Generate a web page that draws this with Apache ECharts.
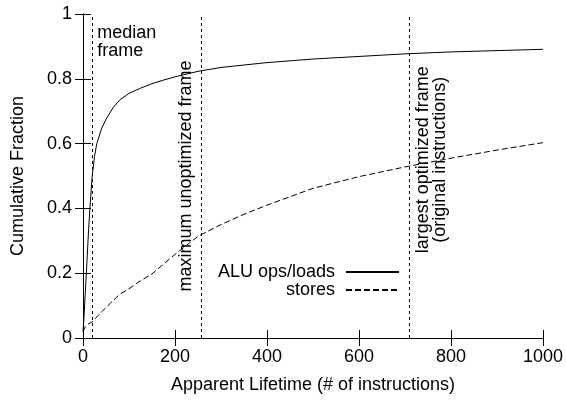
<!DOCTYPE html>
<html>
<head>
<meta charset="utf-8">
<script src="https://cdn.jsdelivr.net/npm/echarts@6/dist/echarts.min.js"></script>
<style>html,body{margin:0;padding:0;background:#fff}#c{width:566px;height:400px}</style>
</head>
<body>
<div id="c"></div>
<script>
// ---- data ----
const aluX = [0, 2, 5, 8, 12, 15, 20, 25, 30, 40, 50, 65, 80, 100, 125, 150, 175, 200, 250, 300, 400, 500, 600, 700, 800, 900, 1000];
const aluY = [0.02, 0.06, 0.14, 0.22, 0.33, 0.40, 0.50, 0.56, 0.60, 0.645, 0.675, 0.71, 0.735, 0.755, 0.771, 0.785, 0.796, 0.806, 0.823, 0.835, 0.85, 0.861, 0.869, 0.877, 0.883, 0.887, 0.891];
const storesX = [0, 5, 10, 20, 40, 60, 80, 100, 120, 150, 200, 250, 300, 350, 400, 500, 600, 700, 800, 900, 1000];
const storesY = [0.02, 0.035, 0.042, 0.05, 0.08, 0.108, 0.135, 0.152, 0.172, 0.198, 0.258, 0.314, 0.35, 0.382, 0.41, 0.462, 0.498, 0.528, 0.555, 0.58, 0.603];
const markerX = [20, 256, 710];
const markerLabels = ['median\nframe', 'maximum unoptimized frame', 'largest optimized frame\n(original instructions)'];
const seriesNames = ['ALU ops/loads', 'stores'];
const xTitle = 'Apparent Lifetime (# of instructions)';
const yTitle = 'Cumulative Fraction';

const FONT = 'Liberation Sans';
const FS = 18;
const zip = (xs, ys) => xs.map((x, i) => [x, ys[i]]);

const chart = echarts.init(document.getElementById('c'), null, {renderer: 'canvas'});
const axisCommon = {
  axisLine: {show: true, lineStyle: {color: '#000', width: 1}},
  axisTick: {show: true, inside: true, length: 8, lineStyle: {color: '#000', width: 1}},
  splitLine: {show: false}
};
const legendCommon = {
  right: 166, orient: 'vertical', align: 'right',
  itemWidth: 53, itemHeight: 12, padding: 0,
  itemStyle: {opacity: 0},
  textStyle: {fontFamily: FONT, fontSize: FS, color: '#000', padding: [0, 6, 0, 0]}
};
const option = {
  animation: false,
  backgroundColor: '#fff',
  textStyle: {fontFamily: FONT},
  grid: {left: 83, right: 23, top: 14, bottom: 62, containLabel: false},
  xAxis: [
    Object.assign({type: 'value', min: 0, max: 1000, interval: 200, position: 'bottom',
      name: xTitle, nameLocation: 'middle', nameGap: 38,
      nameTextStyle: {fontFamily: FONT, fontSize: FS, color: '#000'},
      axisLabel: {fontFamily: FONT, fontSize: FS, color: '#000', margin: 10, formatter: v => String(v)}}, axisCommon),
    Object.assign({type: 'value', min: 0, max: 1000, interval: 200, position: 'top',
      axisLabel: {show: false}}, axisCommon)
  ],
  yAxis: [
    Object.assign({type: 'value', min: 0, max: 1, interval: 0.2, position: 'left',
      name: yTitle, nameLocation: 'middle', nameGap: 56,
      nameTextStyle: {fontFamily: FONT, fontSize: FS, color: '#000'},
      axisLabel: {fontFamily: FONT, fontSize: FS, color: '#000', margin: 11}}, axisCommon),
    Object.assign({type: 'value', min: 0, max: 1, interval: 0.2, position: 'right',
      axisLabel: {show: false}}, axisCommon)
  ],
  legend: [
    Object.assign({data: [seriesNames[0]], top: 263}, legendCommon),
    Object.assign({data: [seriesNames[1]], top: 281}, legendCommon)
  ],
  series: [
    {name: seriesNames[0], type: 'line', data: zip(aluX, aluY), symbol: 'none', smooth: false,
      lineStyle: {color: '#000', width: 1, type: 'solid'}, itemStyle: {color: '#000'},
      markLine: {silent: true, symbol: 'none', label: {show: false},
        lineStyle: {color: '#000', width: 1, type: [3, 3]},
        data: markerX.map(v => ({xAxis: v}))}},
    {name: seriesNames[1], type: 'line', data: zip(storesX, storesY), symbol: 'none', smooth: false,
      lineStyle: {color: '#000', width: 1, type: [6, 3]}, itemStyle: {color: '#000'}}
  ]
};
chart.setOption(option);

// annotation texts placed relative to the marker lines
const px = v => chart.convertToPixel({xAxisIndex: 0}, v);
const py = v => chart.convertToPixel({yAxisIndex: 0}, v);
chart.setOption({
  graphic: [
    {type: 'text', x: px(markerX[0]) + 5, y: py(1) + 10,
      style: {text: markerLabels[0], fontFamily: FONT, fontSize: FS, lineHeight: 18, fill: '#000', textAlign: 'left', textVerticalAlign: 'top'}},
    {type: 'text', x: px(markerX[1]) - 15, y: py(0.5),
      rotation: Math.PI / 2,
      style: {text: markerLabels[1], fontFamily: FONT, fontSize: FS, lineHeight: 18, fill: '#000', textAlign: 'center', textVerticalAlign: 'middle'}},
    {type: 'text', x: px(markerX[2]) + 22, y: py(0.55),
      rotation: Math.PI / 2,
      style: {text: markerLabels[2], fontFamily: FONT, fontSize: FS, lineHeight: 17, fill: '#000', textAlign: 'center', textVerticalAlign: 'middle'}}
  ]
});
</script>
</body>
</html>
